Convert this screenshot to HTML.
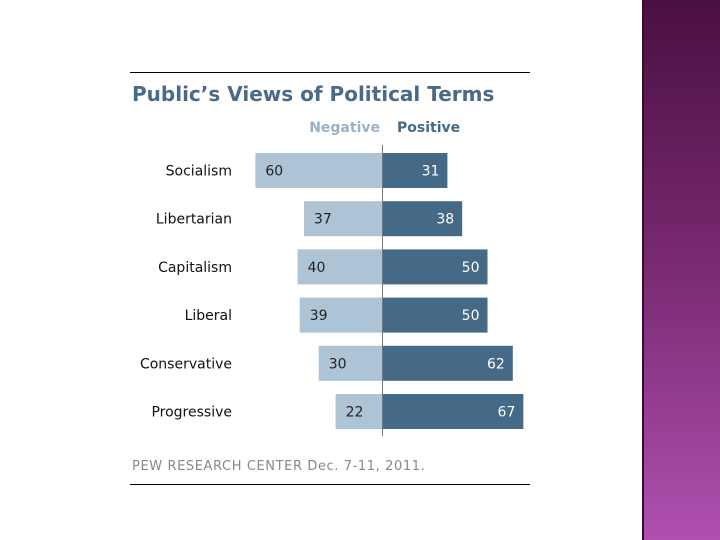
<!DOCTYPE html>
<html><head><meta charset="utf-8"><style>
body{margin:0;width:720px;height:540px;background:#fff;position:relative;overflow:hidden;font-family:"DejaVu Sans","Liberation Sans",sans-serif}
#strip{position:absolute;left:642px;top:0;width:78px;height:540px;background:linear-gradient(#4a1042,#7a2a72 50%,#b050b0);border-left:2px solid #3a0a35;box-sizing:border-box}
</style></head><body>
<div id="strip"></div>
<svg id="chart" width="720" height="540" style="position:absolute;left:0;top:0"></svg>
<script>
const categories=["Socialism","Libertarian","Capitalism","Liberal","Conservative","Progressive"];
const negativeValues=[60,37,40,39,30,22];
const positiveValues=[31,38,50,50,62,67];
const NS="http://www.w3.org/2000/svg";
const svg=document.getElementById('chart');
const cx=382,scale=2.11,rowTop=153,step=48.2,barH=35;
const xNeg=v=>cx-v*scale, xPos=v=>cx+v*scale, yRow=i=>rowTop+i*step;
function mk(tag,attrs,txt){const e=document.createElementNS(NS,tag);for(const k in attrs)e.setAttribute(k,attrs[k]);if(txt!==undefined)e.textContent=txt;svg.appendChild(e);return e;}
let e;
e=mk('line',{x1:130,y1:72.5,x2:530,y2:72.5,stroke:'#000','stroke-width':1});


e=mk('text',{x:132,y:101,'font-size':20,'font-weight':'bold',fill:'#4a6a88'},"Public’s Views of Political Terms");


e=mk('text',{x:380,y:132,'font-size':14,'font-weight':'bold',fill:'#9ab0c4','text-anchor':'end'},"Negative");


e=mk('text',{x:397,y:132,'font-size':14,'font-weight':'bold',fill:'#456a88'},"Positive");


categories.forEach((c,i)=>{
  const y=yRow(i);
  let t=mk('text',{x:232,y:y+barH/2+5,'font-size':14,fill:'#111','text-anchor':'end'},c);
  
  
  let r=mk('rect',{x:xNeg(negativeValues[i]),y:y,width:cx-xNeg(negativeValues[i]),height:barH,fill:'#adc3d6'});
  
  
  r=mk('rect',{x:cx,y:y,width:xPos(positiveValues[i])-cx,height:barH,fill:'#456a88'});
  
  
  t=mk('text',{x:xNeg(negativeValues[i])+10,y:y+barH/2+5,'font-size':14,fill:'#222'},String(negativeValues[i]));
  
  
  t=mk('text',{x:xPos(positiveValues[i])-8,y:y+barH/2+5,'font-size':14,fill:'#fff','text-anchor':'end'},String(positiveValues[i]));
  
  
});
e=mk('line',{x1:cx+0.5,y1:145,x2:cx+0.5,y2:436,stroke:'#777','stroke-width':1});


e=mk('text',{x:132,y:470,'font-size':13,'letter-spacing':0.6,fill:'#888'},"PEW RESEARCH  CENTER Dec. 7-11, 2011.");


e=mk('line',{x1:130,y1:484.5,x2:530,y2:484.5,stroke:'#000','stroke-width':1});


</script>
</body></html>
